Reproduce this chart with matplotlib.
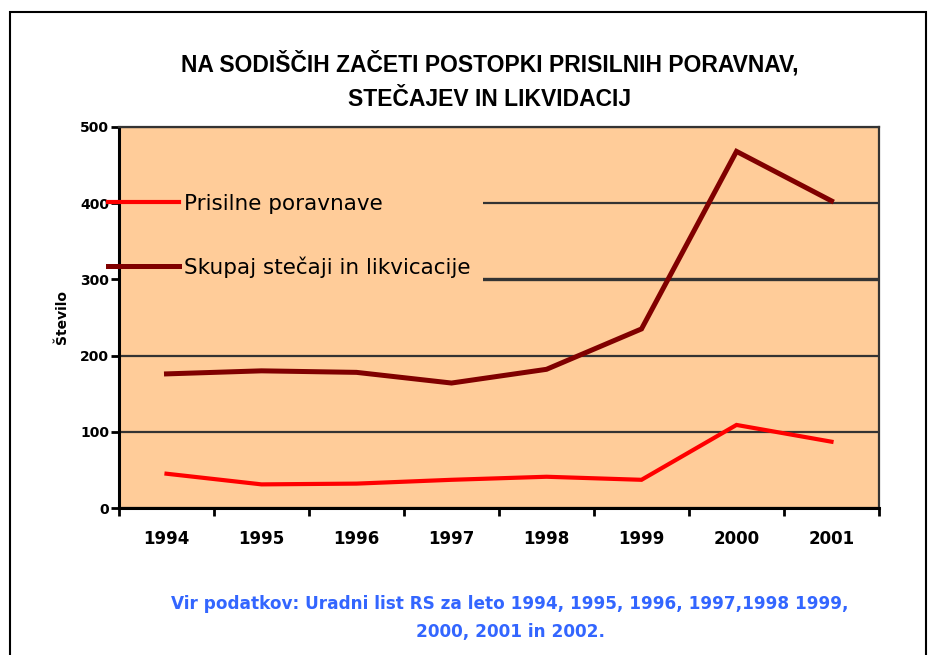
import matplotlib
matplotlib.use("Agg")
import matplotlib.pyplot as plt
from matplotlib.patches import Rectangle

years = ["1994", "1995", "1996", "1997", "1998", "1999", "2000", "2001"]
prisilne = [45, 31, 32, 37, 41, 37, 109, 87]
skupaj = [176, 180, 178, 164, 182, 235, 468, 403]
yticks = [0, 100, 200, 300, 400, 500]
ytick_labels = ["0", "100", "200", "300", "400", "500"]
series_labels = ["Prisilne poravnave", "Skupaj stečaji in likvicacije"]
title = "NA SODIŠČIH ZAČETI POSTOPKI PRISILNIH PORAVNAV,\nSTEČAJEV IN LIKVIDACIJ"
source = "Vir podatkov: Uradni list RS za leto 1994, 1995, 1996, 1997,1998 1999,\n2000, 2001 in 2002."

W, H = 933, 655
fig = plt.figure(figsize=(W / 100, H / 100), dpi=100)
fig.patch.set_facecolor("white")

# outer frame
fig.patches.append(Rectangle((10 / W, -0.05), (926 - 10) / W, 1.05 - 12 / H,
                             transform=fig.transFigure, fill=False,
                             edgecolor="black", linewidth=1.5))

ax = fig.add_axes([119 / W, 1 - 508 / H, (879 - 119) / W, (508 - 127) / H])
ax.set_facecolor("#FFCC99")

x = list(range(len(years)))
ax.plot(x, prisilne, color="#FF0000", linewidth=3.0, label=series_labels[0],
        solid_joinstyle="miter", zorder=6)
ax.plot(x, skupaj, color="#800000", linewidth=3.6, label=series_labels[1],
        solid_joinstyle="miter", zorder=6)

ax.set_xlim(-0.5, len(years) - 0.5)
ax.set_ylim(0, 500)

# x ticks at category boundaries, labels at centres
ax.set_xticks([i - 0.5 for i in range(len(years) + 1)])
ax.set_xticklabels([])
ax.set_xticks(x, minor=True)
ax.set_xticklabels(years, minor=True, fontsize=12, fontweight="bold")
ax.tick_params(axis="x", which="major", length=6, width=2, direction="out", color="black")
ax.tick_params(axis="x", which="minor", length=0, pad=16)

ax.set_yticks(yticks)
ax.set_yticklabels(ytick_labels, fontsize=10, fontweight="bold")
ax.tick_params(axis="y", length=6, width=2, direction="out", pad=1, color="black")

ax.yaxis.grid(True, color="#333333", linewidth=1.6)
ax.set_axisbelow(True)
for i, gl in enumerate(ax.get_ygridlines()):
    if yticks[i] == 300:
        gl.set_linewidth(2.4)

for side in ["left", "bottom"]:
    ax.spines[side].set_color("black")
    ax.spines[side].set_linewidth(2.2)
for side in ["top", "right"]:
    ax.spines[side].set_color("#333333")
    ax.spines[side].set_linewidth(1.6)

ax.set_ylabel("Število", fontsize=10, fontweight="bold", labelpad=8)

# legend background box (covers gridlines on the left)
ax.add_patch(Rectangle((0, 0.572), 0.479, 0.30, transform=ax.transAxes,
                       facecolor="#FFCC99", edgecolor="none", zorder=1))

leg = ax.legend(loc="upper left", bbox_to_anchor=(-0.0145, 0.8245), frameon=False,
                fontsize=15.5, handlelength=3.3, handletextpad=0.25, labelspacing=1.98,
                borderpad=0, borderaxespad=0)
leg.set_zorder(7)

fig.text(490 / W, 1 - 81 / H, title, ha="center", va="center", fontsize=16.5,
         fontweight="bold", linespacing=1.6, family="Liberation Sans")
fig.text(510 / W, 1 - 618 / H, source, ha="center", va="center", fontsize=12.2,
         fontweight="bold", color="#3366FF", linespacing=1.7)

fig.savefig("out.png", dpi=100, facecolor="white")
